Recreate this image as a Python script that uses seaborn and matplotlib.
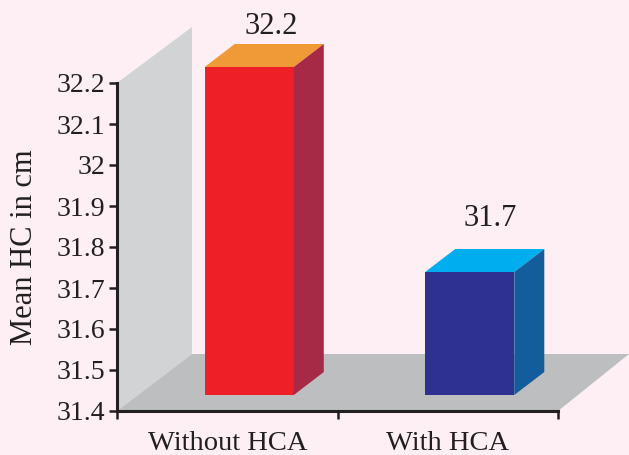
import matplotlib
matplotlib.use("Agg")
import matplotlib.pyplot as plt
from matplotlib.patches import Polygon
import pandas as pd
import seaborn as sns

# Values
groups = ["Without HCA", "With HCA"]
mean_hc = [32.2, 31.7]
y_ticks = [31.4, 31.5, 31.6, 31.7, 31.8, 31.9, 32.0, 32.1, 32.2]
y_labels = ["31.4", "31.5", "31.6", "31.7", "31.8", "31.9", "32", "32.1", "32.2"]

front = ["#ee1f26", "#2e3192"]
top = ["#f09a37", "#00aeef"]
side = ["#a62a46", "#135d9c"]

sns.set_theme(style="white")
plt.rcParams["font.family"] = ["Liberation Serif", "DejaVu Serif"]

bg = "#fdeff4"
ink = "#231f20"
fig = plt.figure(figsize=(6.29, 4.55), dpi=100, facecolor=bg)
# axes box: x 117..558 px, y 83..411 px from the top
ax = fig.add_axes([117 / 629, 1 - 411 / 455, (558 - 117) / 629, (411 - 83) / 455])
ax.patch.set_alpha(0)

df = pd.DataFrame({"group": groups, "mean_hc": mean_hc})
sns.barplot(data=df, x="group", y="mean_hc", hue="group", palette=front,
            legend=False, width=0.404, ax=ax, zorder=5, saturation=1, linewidth=0)
ax.set_xlim(-0.5, 1.5)
ax.set_ylim(31.4, 32.2)

px = 2 / 441  # data units per pixel in x
py = 0.8 / 328  # data units per pixel in y
dx = 30 * px
dy = 23 * py
lift = 16 * py  # bars stand forward of the axis, so everything sits 16px higher
shift = 22 * px

# label offsets from the bar's front face, in pixels
label_dx = [22, 20]
label_gap = [3, 16]

# Grey back wall and floor
ax.add_patch(Polygon([(-0.5, 31.4), (-0.5 + 75 * px, 31.4 + 57 * py),
                      (-0.5 + 75 * px, 32.2 + 56 * py), (-0.5, 32.2)],
                     closed=True, fc="#d1d3d4", ec="none", clip_on=False, zorder=1))
ax.add_patch(Polygon([(-0.5, 31.4), (-0.5 + 75 * px, 31.4 + 57 * py),
                      (1.5 + 71 * px, 31.4 + 57 * py), (1.5, 31.4)],
                     closed=True, fc="#bcbec0", ec="none", clip_on=False, zorder=1))

bars = [p for c in ax.containers for p in c]
for i, bar in enumerate(bars):
    bar.set_clip_on(False)
    bar.set_x(bar.get_x() + shift)
    bar.set_y(31.4 + lift)
    bar.set_height(mean_hc[i] - 31.4)
    x0 = bar.get_x()
    w = bar.get_width()
    y0 = bar.get_y()
    h = y0 + bar.get_height()
    ax.add_patch(Polygon([(x0, h), (x0 + dx, h + dy), (x0 + w + dx, h + dy), (x0 + w, h)],
                         closed=True, fc=top[i], ec="none", clip_on=False, zorder=6))
    ax.add_patch(Polygon([(x0 + w, y0), (x0 + w + dx, y0 + dy), (x0 + w + dx, h + dy), (x0 + w, h)],
                         closed=True, fc=side[i], ec="none", clip_on=False, zorder=6))
    ax.text(x0 + w / 2 + label_dx[i] * px, h + dy + label_gap[i] * py, str(mean_hc[i]),
            ha="center", va="bottom", fontsize=22, color=ink, clip_on=False, zorder=7)

sns.despine(ax=ax)
for s in ["left", "bottom"]:
    ax.spines[s].set_linewidth(2.2)
    ax.spines[s].set_color(ink)
    ax.spines[s].set_zorder(8)

ax.set_yticks(y_ticks)
ax.set_yticklabels(y_labels)
ax.set_xticks([0, 1])
ax.set_xticklabels(groups)
ax.set_xticks([-0.5, 0.5, 1.5], minor=True)
ax.tick_params(axis="y", length=5.5, width=1.8, color=ink, direction="out", left=True,
               labelsize=20, labelcolor=ink, pad=3)
ax.tick_params(axis="x", which="major", length=0, labelsize=20.5, labelcolor=ink, pad=14.5)
ax.tick_params(axis="x", which="minor", length=5.5, width=1.8, color=ink, direction="out", bottom=True)
ax.set_xlabel("")
ax.set_ylabel("Mean HC in cm", fontsize=22, color=ink, labelpad=13)

fig.savefig("out.png", dpi=100, facecolor=bg)
